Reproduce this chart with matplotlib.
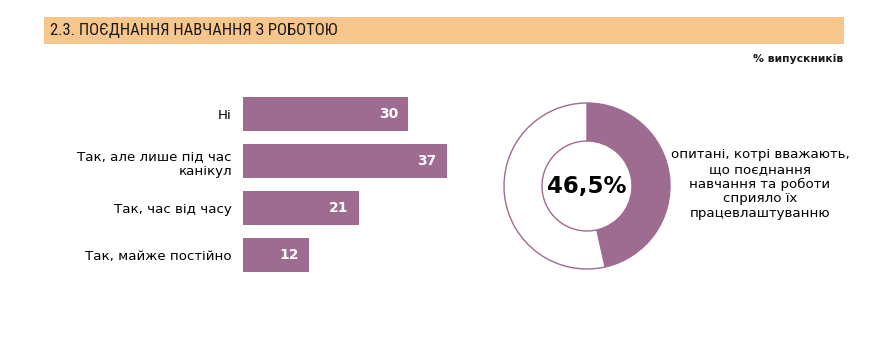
import matplotlib
matplotlib.use("Agg")
import matplotlib.pyplot as plt
from matplotlib.patches import Rectangle
from matplotlib import font_manager

# ---- data ----
categories = ["Ні", "Так, але лише під час\nканікул", "Так, час від часу", "Так, майже постійно"]
values = [30, 37, 21, 12]
donut_share = 46.5
donut_label = "46,5%"
donut_text = "опитані, котрі вважають,\nщо поєднання\nнавчання та роботи\nсприяло їх\nпрацевлаштуванню"
title = "2.3. ПОЄДНАННЯ НАВЧАННЯ З РОБОТОЮ"
unit_note = "% випускників"

PURPLE = "#9E6B91"
PEACH = "#F7C68D"
W, H = 881, 353

fig = plt.figure(figsize=(W / 100, H / 100), dpi=100)
fig.patch.set_facecolor("white")

def fx(px):
    return px / W

def fy(py):
    return 1 - py / H

# choose a narrow font for the header if any is installed
names = {f.name for f in font_manager.fontManager.ttflist}
narrow = None
for cand in ["Liberation Sans Narrow", "DejaVu Sans Condensed", "Roboto Condensed", "Open Sans Condensed"]:
    if cand in names:
        narrow = cand
        break

# header band
fig.patches.append(Rectangle((fx(44), fy(44)), fx(844) - fx(44), fy(17) - fy(44),
                             transform=fig.transFigure, facecolor=PEACH, edgecolor="none", zorder=0))
if narrow:
    fig.text(fx(50), fy(31), title, ha="left", va="center", fontsize=12,
             family=[narrow, "DejaVu Sans"], color="#1a1a1a")
else:
    fig.text(fx(50), fy(31), title, ha="left", va="center", fontsize=10,
             family=["DejaVu Sans"], fontstretch="condensed", color="#1a1a1a")
fig.text(fx(843), fy(59), unit_note, ha="right", va="center", fontsize=7.8,
         family=["DejaVu Sans"], color="#1a1a1a", fontweight="semibold")

# bar chart
bar_top, bar_bot = 91, 278
axb = fig.add_axes([fx(243), fy(bar_bot), 220 / W, (bar_bot - bar_top) / H])
ypos = list(range(len(categories)))
axb.barh(ypos, values, height=0.73, color=PURPLE, edgecolor="none")
axb.set_xlim(0, 220 / 5.5)
axb.set_ylim(len(categories) - 0.5, -0.5)
axb.set_yticks(ypos)
axb.set_yticklabels(categories, fontsize=9.6, family="DejaVu Sans", color="#000000",
                    ha="right", linespacing=1.2)
axb.tick_params(axis="y", length=0, pad=8)
axb.set_xticks([])
for s in axb.spines.values():
    s.set_visible(False)
for y, v in zip(ypos, values):
    axb.text(v - 1.8, y, str(v), ha="right", va="center", color="white",
             fontsize=10, fontweight="bold", family="DejaVu Sans")

# donut
cx, cy, R = 587, 186, 90
axd = fig.add_axes([fx(cx - R), fy(cy + R), 2 * R / W, 2 * R / H])
axd.pie([donut_share, 100 - donut_share], radius=83, startangle=90, counterclock=False,
        colors=[PURPLE, "white"],
        wedgeprops=dict(width=38, edgecolor=PURPLE, linewidth=1.0))
axd.set_xlim(-R, R)
axd.set_ylim(-R, R)
axd.set_aspect("equal")
axd.axis("off")
axd.text(0, 0, donut_label, ha="center", va="center", fontsize=16.5, fontweight="bold",
         family="DejaVu Sans", color="black")

fig.text(fx(760), fy(184), donut_text, ha="center", va="center", fontsize=9.6,
         family="DejaVu Sans", color="#000000", linespacing=1.15)

fig.savefig("out.png", dpi=100)
